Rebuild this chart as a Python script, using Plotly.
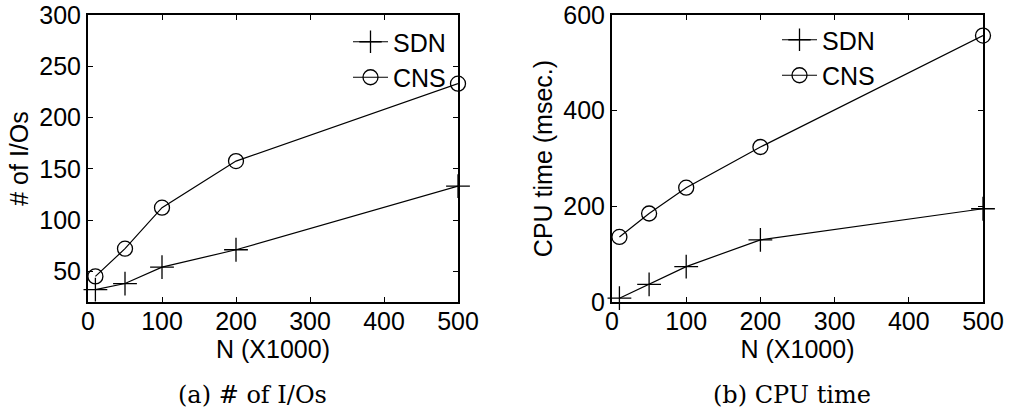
import plotly.graph_objects as go

N = [10, 50, 100, 200, 500]
io_sdn = [32, 38, 54, 71, 133]
io_cns = [45, 72, 112, 157.5, 233]
cpu_sdn = [8, 37, 74, 130, 195]
cpu_cns = [136, 185, 239, 324, 557]

x_ticks = [0, 100, 200, 300, 400, 500]
io_ticks = [50, 100, 150, 200, 250, 300]
cpu_ticks = [0, 200, 400, 600]

W, H = 1010, 415
FONT = "Liberation Sans"
FS = 25
fig = go.Figure()

line = dict(color="black", width=1.2)
plus = dict(symbol="cross-thin", size=17, color="black", line=dict(color="black", width=1.3))
circ = dict(symbol="circle-open", size=15, color="black", line=dict(color="black", width=1.3))

fig.add_trace(go.Scatter(x=N, y=io_sdn, name="SDN", mode="lines+markers", line=line, marker=plus,
                         xaxis="x", yaxis="y", legend="legend", cliponaxis=False))
fig.add_trace(go.Scatter(x=N, y=io_cns, name="CNS", mode="lines+markers", line=line, marker=circ,
                         xaxis="x", yaxis="y", legend="legend", cliponaxis=False))
fig.add_trace(go.Scatter(x=N, y=cpu_sdn, name="SDN", mode="lines+markers", line=line, marker=plus,
                         xaxis="x2", yaxis="y2", legend="legend2", cliponaxis=False))
fig.add_trace(go.Scatter(x=N, y=cpu_cns, name="CNS", mode="lines+markers", line=line, marker=circ,
                         xaxis="x2", yaxis="y2", legend="legend2", cliponaxis=False))

ytop = 1 - 15 / H
ybot = 1 - 302 / H

axcommon = dict(showline=True, linecolor="black", linewidth=2, mirror="ticks", ticks="inside",
                ticklen=5, tickwidth=1, tickcolor="black", showgrid=False, zeroline=False,
                automargin=False,
                tickfont=dict(family=FONT, size=FS, color="black"),
                title_font=dict(family=FONT, size=FS, color="black"))

fig.update_layout(
    width=W, height=H, margin=dict(l=0, r=0, t=0, b=0, autoexpand=False),
    paper_bgcolor="white", plot_bgcolor="white",
    xaxis=dict(domain=[88 / W, 458 / W], range=[0, 500], tickvals=x_ticks, anchor="y",
               ticklabelstandoff=-4, title=dict(text="N (X1000)", standoff=0), **axcommon),
    yaxis=dict(domain=[ybot, ytop], range=[20, 300], tickvals=io_ticks, anchor="x",
               title=dict(text="# of I/Os", standoff=4), **axcommon),
    xaxis2=dict(domain=[612 / W, 983 / W], range=[0, 500], tickvals=x_ticks, anchor="y2",
                ticklabelstandoff=-4, title=dict(text="N (X1000)", standoff=0), **axcommon),
    yaxis2=dict(domain=[ybot, ytop], range=[0, 600], tickvals=cpu_ticks, anchor="x2",
                title=dict(text="CPU time (msec.)", standoff=4), **axcommon),
    legend=dict(x=348 / W, y=1 - 19 / H, xanchor="left", yanchor="top", bgcolor="rgba(0,0,0,0)",
                font=dict(family=FONT, size=FS, color="black"), itemwidth=35, tracegroupgap=0),
    legend2=dict(x=777 / W, y=1 - 17 / H, xanchor="left", yanchor="top", bgcolor="rgba(0,0,0,0)",
                 font=dict(family=FONT, size=FS, color="black"), itemwidth=35, tracegroupgap=0),
    annotations=[
        dict(text="(a) # of I/Os", x=252 / W, y=1 - 395 / H, xref="paper", yref="paper",
             xanchor="center", yanchor="middle", showarrow=False,
             font=dict(family="DejaVu Serif", size=24, color="black")),
        dict(text="(b) CPU time", x=792 / W, y=1 - 395 / H, xref="paper", yref="paper",
             xanchor="center", yanchor="middle", showarrow=False,
             font=dict(family="DejaVu Serif", size=24, color="black")),
    ],
)

fig.write_html("out.html")
